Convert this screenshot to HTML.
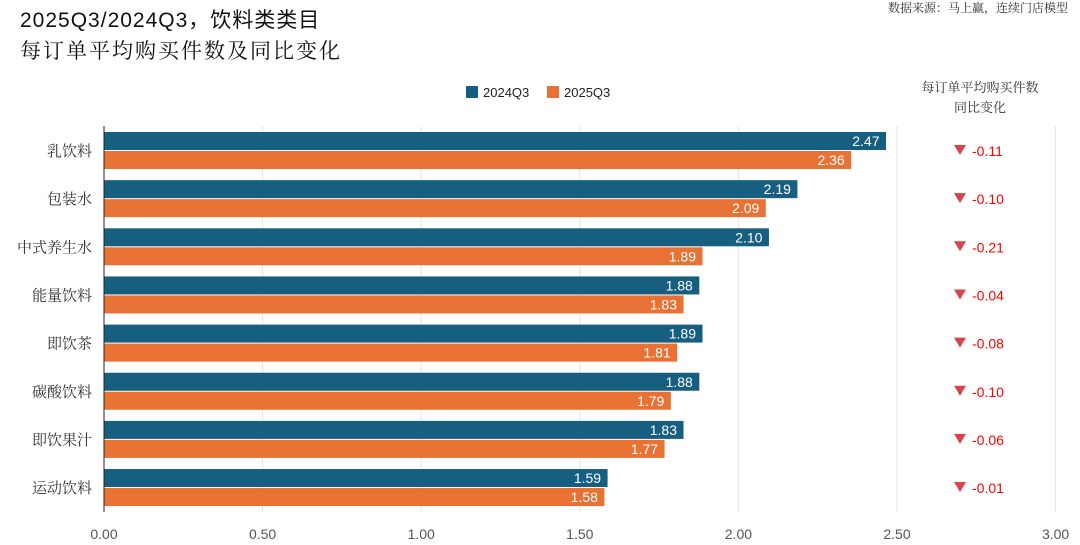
<!DOCTYPE html>
<html><head><meta charset="utf-8"><style>
body{margin:0;background:#fff}
svg{display:block}
text{font-family:"Liberation Sans","Noto Sans CJK SC",sans-serif}
.s{font-family:"Noto Serif CJK SC","Liberation Serif",serif}
</style></head><body>
<svg width="1080" height="545" xmlns="http://www.w3.org/2000/svg">
<text x="20" y="27" font-size="21" fill="#111" letter-spacing="1">2025Q3/2024Q3，饮料类类目</text>
<text x="20" y="58" font-size="21" fill="#111" class="s" letter-spacing="2">每订单平均购买件数及同比变化</text>
<text x="1068" y="12" font-size="12" fill="#333" text-anchor="end" class="s">数据来源：马上赢，连续门店模型</text>
<rect x="466" y="86" width="12" height="12" fill="#175f80"/>
<text x="483" y="97" font-size="13" fill="#222">2024Q3</text>
<rect x="547" y="86" width="12" height="12" fill="#e87134"/>
<text x="564" y="97" font-size="13" fill="#222">2025Q3</text>
<text x="980" y="92" font-size="13" fill="#333" text-anchor="middle" class="s">每订单平均购买件数</text>
<text x="980" y="112" font-size="13" fill="#333" text-anchor="middle" class="s">同比变化</text>
<g stroke="#e3e3e3" stroke-width="1">
<line x1="262.6" y1="126" x2="262.6" y2="512"/>
<line x1="421.2" y1="126" x2="421.2" y2="512"/>
<line x1="579.8" y1="126" x2="579.8" y2="512"/>
<line x1="738.4" y1="126" x2="738.4" y2="512"/>
<line x1="897" y1="126" x2="897" y2="512"/>
<line x1="1055.6" y1="126" x2="1055.6" y2="512"/>
</g>
<line x1="104" y1="126" x2="104" y2="512" stroke="#222" stroke-width="1"/>
<g font-size="14" fill="#555" text-anchor="middle">
<text x="104" y="539">0.00</text><text x="262.6" y="539">0.50</text><text x="421.2" y="539">1.00</text><text x="579.8" y="539">1.50</text><text x="738.4" y="539">2.00</text><text x="897" y="539">2.50</text><text x="1055.6" y="539">3.00</text>
</g>
<g id="bars"></g>
</svg>
<script>
var d=[["乳饮料",2.47,2.36,"-0.11"],["包装水",2.19,2.09,"-0.10"],["中式养生水",2.10,1.89,"-0.21"],["能量饮料",1.88,1.83,"-0.04"],["即饮茶",1.89,1.81,"-0.08"],["碳酸饮料",1.88,1.79,"-0.10"],["即饮果汁",1.83,1.77,"-0.06"],["运动饮料",1.59,1.58,"-0.01"]];
var s="",k=316.4;
d.forEach(function(r,i){var y=132+i*48.15;
var w1=r[1]*k,w2=r[2]*k;
s+='<rect x="104.5" y="'+y+'" width="'+w1+'" height="18" fill="#175f80"/>';
s+='<rect x="104.5" y="'+(y+19)+'" width="'+w2+'" height="18" fill="#e87134"/>';
s+='<text x="'+(104+w1-6)+'" y="'+(y+14)+'" font-size="14" fill="#fff" text-anchor="end">'+r[1].toFixed(2)+'</text>';
s+='<text x="'+(104+w2-6)+'" y="'+(y+33)+'" font-size="14" fill="#fff" text-anchor="end">'+r[2].toFixed(2)+'</text>';
s+='<text x="92" y="'+(y+24)+'" font-size="15" fill="#333" text-anchor="end" class="s">'+r[0]+'</text>';
s+='<polygon points="954,'+(y+13)+' 966,'+(y+13)+' 960,'+(y+23)+'" fill="#d9434b"/>';
s+='<text x="972" y="'+(y+24)+'" font-size="14" fill="#f00">'+r[3]+'</text>';
});
document.getElementById("bars").innerHTML=s;
</script>
</body></html>
